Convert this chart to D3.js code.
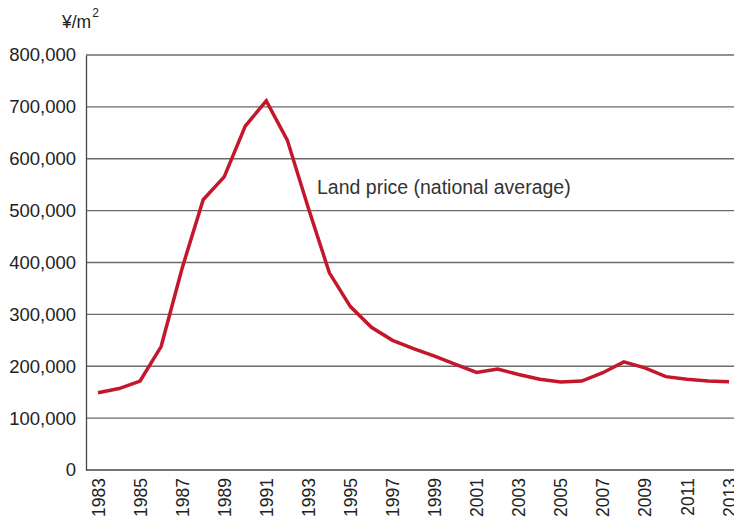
<!DOCTYPE html>
<html>
<head>
<meta charset="utf-8">
<script src="https://cdn.jsdelivr.net/npm/d3@7"></script>
<style>
  body { margin: 0; background: #fff; }
  svg { display: block; font-family: "Liberation Sans", Arial, sans-serif; }
</style>
</head>
<body>
<div id="chart"></div>
<script>
// land price, national average (yen per square metre)
const years = d3.range(1983, 2014);
const prices = [
  149000, 157000, 171500, 238000, 389000, 521000, 565000, 663000, 711500, 636000,
  505000, 380000, 315000, 275000, 250000, 234000, 219500, 203500, 188000, 194500,
  184000, 175000, 169500, 171500, 187500, 208500, 197000, 180000, 175000, 171500,
  170000
];
const yTicks = [0, 100000, 200000, 300000, 400000, 500000, 600000, 700000, 800000];
const xLabels = years.filter(y => (y - 1983) % 2 === 0);
const seriesLabel = "Land price (national average)";

function Init() {
  const width = 734, height = 523;
  const left = 86, top = 55, bottom = 470, right = 734;

  const svg = d3.select("#chart").append("svg")
    .attr("width", width).attr("height", height);

  const x = d3.scalePoint().domain(years).range([98, 729]);
  const y = d3.scaleLinear().domain([0, 800000]).range([bottom, top]);

  // horizontal grid
  svg.append("g")
    .selectAll("line")
    .data(yTicks.filter(d => d > 0))
    .enter()
    .append("line")
    .attr("x1", left).attr("x2", right)
    .attr("y1", d => y(d)).attr("y2", d => y(d))
    .attr("stroke", "#6b6b6b")
    .attr("stroke-width", 1.3);

  // y axis
  const yAxis = svg.append("g")
    .attr("transform", `translate(${left},0)`)
    .call(d3.axisLeft(y).tickValues(yTicks).tickSize(0).tickPadding(10)
      .tickFormat(d3.format(",")));
  yAxis.select(".domain").attr("stroke", "#444").attr("stroke-width", 1.3);
  yAxis.selectAll("text")
    .attr("font-size", "18.5px")
    .attr("fill", "#222")
    .attr("font-family", "Liberation Sans, Arial, sans-serif");

  // x axis
  const xAxis = svg.append("g")
    .attr("transform", `translate(0,${bottom})`)
    .call(d3.axisBottom(x).tickValues(xLabels).tickSize(0).tickFormat(d3.format("d")));
  xAxis.select(".domain").attr("d", `M${left},0H${right}`)
    .attr("stroke", "#444").attr("stroke-width", 1.3);
  xAxis.selectAll("text")
    .attr("font-size", "17.5px")
    .attr("fill", "#222")
    .attr("font-family", "Liberation Sans, Arial, sans-serif")
    .attr("text-anchor", "end")
    .attr("dy", "0.35em")
    .attr("transform", "translate(0,8) rotate(-90)")
    .attr("x", 0).attr("y", 0);

  // unit label
  const unit = svg.append("text")
    .attr("x", 62).attr("y", 28)
    .attr("font-size", "17.5px")
    .attr("fill", "#222");
  unit.append("tspan").text("¥/m");
  unit.append("tspan").attr("font-size", "12px").attr("dy", "-11").attr("dx", "1").text("2");

  // line
  const line = d3.line()
    .x((d, i) => x(years[i]))
    .y(d => y(d));

  svg.append("path")
    .datum(prices)
    .attr("d", line)
    .attr("fill", "none")
    .attr("stroke", "#c4172c")
    .attr("stroke-width", 3.5)
    .attr("stroke-linejoin", "miter");

  svg.append("text")
    .attr("x", 317).attr("y", 194)
    .attr("font-size", "19.5px")
    .attr("fill", "#333")
    .text(seriesLabel);
}

Init();
</script>
</body>
</html>
